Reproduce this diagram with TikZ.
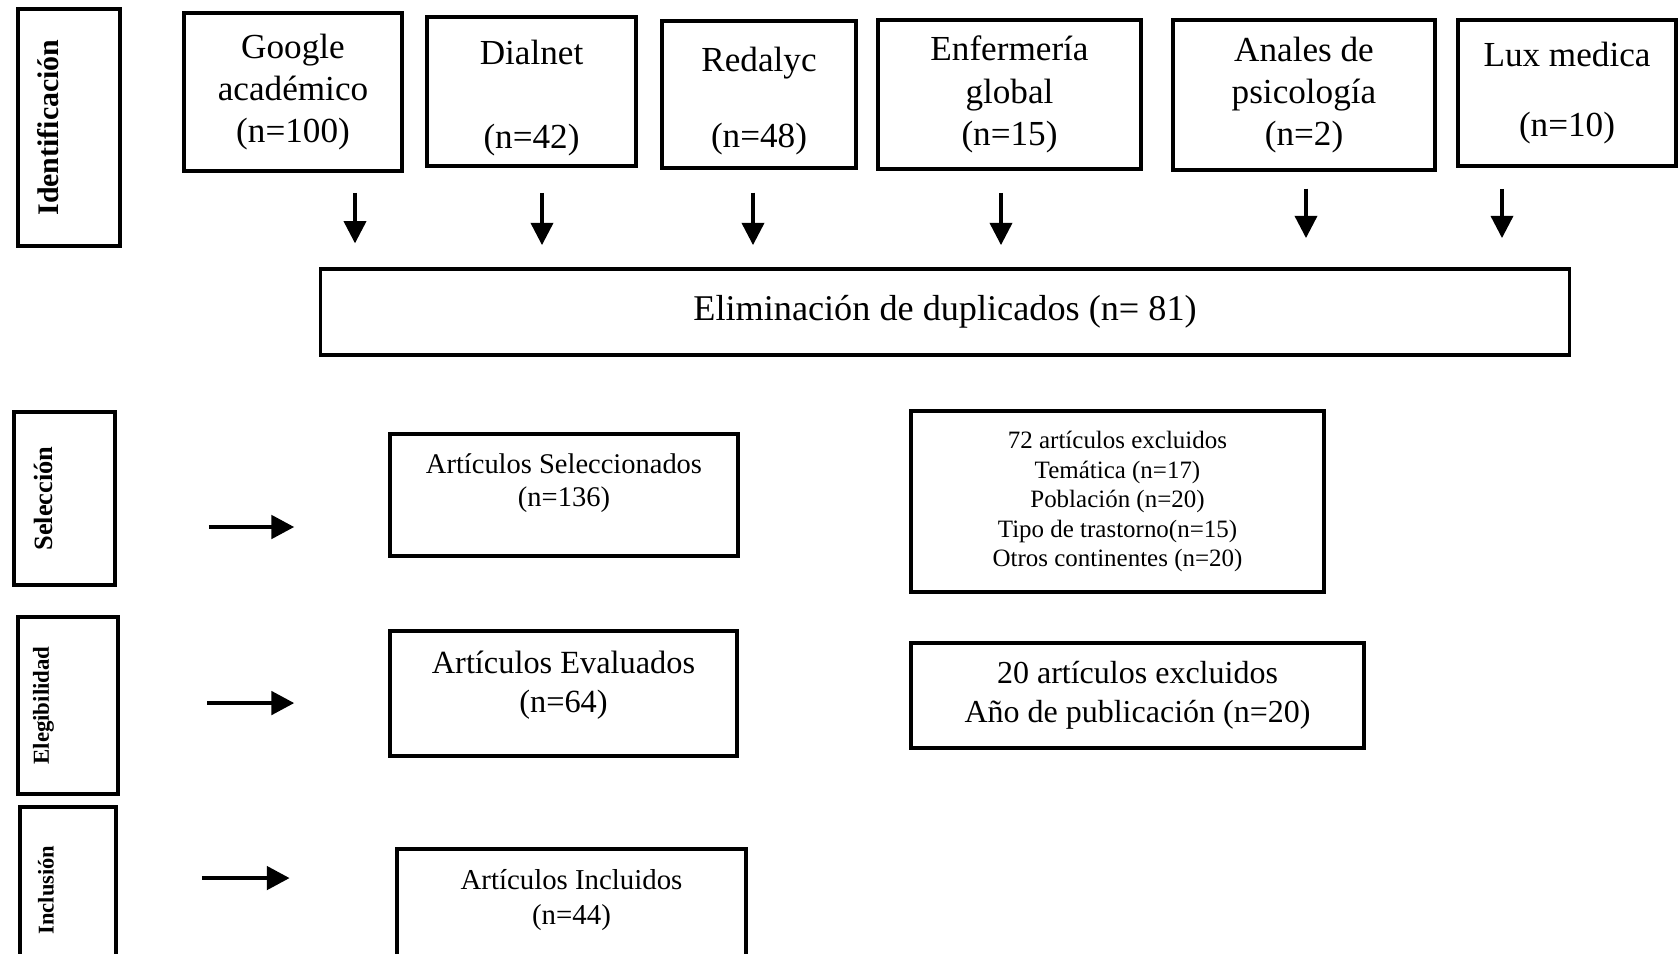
\documentclass[tikz,border=0pt]{standalone}
\usepackage{fontspec}
\setmainfont{Liberation Serif}
\usetikzlibrary{arrows.meta}

\begin{document}
\begin{tikzpicture}[x=0.01cm, y=-0.01cm,
    box/.style={draw, line width=1pt, inner sep=2pt, align=center, font=\fontsize{10}{12}\selectfont},
    fase/.style={draw, line width=1pt, inner sep=0pt, align=center, rotate=90},
    darr/.style={-{Triangle[length=6.3pt, width=6.3pt]}, line width=0.9pt},
    harr/.style={-{Triangle[length=6.5pt, width=6.6pt]}, line width=1.2pt}
]
\useasboundingbox (0,0) rectangle (1678,953);

\node[fase, minimum width=2.37cm, minimum height=1.02cm, font=\bfseries\fontsize{8.5}{10}\selectfont] (ident) at (69,127.5) {Identificación\\[2pt]\mbox{}};
\node[box, minimum width=2.18cm, minimum height=1.58cm] (google) at (293,92) {Google\\académico\\(n=100)};
\node[box, minimum width=2.09cm, minimum height=1.49cm] (dialnet) at (531.5,91.5) {\mbox{}\\[-1.4pt]Dialnet\\[12pt](n=42)};
\node[box, minimum width=1.94cm, minimum height=1.47cm] (redalyc) at (759,94.5) {\mbox{}\\[-1.4pt]Redalyc\\[9.6pt](n=48)};
\node[box, minimum width=2.63cm, minimum height=1.49cm] (enfermeria) at (1009.5,94.5) {Enfermería\\global\\(n=15)};
\node[box, minimum width=2.62cm, minimum height=1.50cm] (anales) at (1304,95) {Anales de\\psicología\\(n=2)};
\node[box, minimum width=2.18cm, minimum height=1.46cm] (lux) at (1567,93) {Lux medica\\[8pt](n=10)};
\node[box, minimum width=12.48cm, minimum height=0.86cm, font=\fontsize{10.3}{12}\selectfont] (elim) at (945,312) {Eliminación de duplicados (n= 81)};

\foreach \src/\ax/\sa/\sb in {google/355/5.7/6.8, dialnet/542/7.1/6.3, redalyc/753/6.5/6.3,
    enfermeria/1001/6.3/6.3, anales/1306/4.8/8.3, lux/1502/6.0/8.3}
  \draw[darr, shorten <=\sa pt, shorten >=\sb pt] (\src.south -| \ax,0) -- (elim.north -| \ax,0);

\node[fase, minimum width=1.73cm, minimum height=1.01cm, font=\bfseries\fontsize{7.5}{9}\selectfont] (selec) at (64.5,498.5) {Selección\\[3.2pt]\mbox{}};
\node[box, minimum width=3.48cm, minimum height=1.22cm, font=\fontsize{8.1}{9.5}\selectfont] (artsel) at (564,495) {Artículos Seleccionados\\(n=136)\\[-1pt]\mbox{}};
\node[box, minimum width=4.13cm, minimum height=1.81cm, font=\fontsize{7.1}{8.4}\selectfont] (excl72) at (1117.5,501.5) {72 artículos excluidos\\Temática (n=17)\\Población (n=20)\\Tipo de trastorno(n=15)\\Otros continentes (n=20)};

\node[fase, minimum width=1.77cm, minimum height=1.00cm, font=\bfseries\fontsize{6.5}{8}\selectfont] (eleg) at (68,705.5) {Elegibilidad\\[7.4pt]\mbox{}};
\node[box, minimum width=3.47cm, minimum height=1.25cm, font=\fontsize{9.2}{11}\selectfont] (arteval) at (563.5,693.5) {Artículos Evaluados\\(n=64)\\[-4.4pt]\mbox{}};
\node[box, minimum width=4.53cm, minimum height=1.05cm, font=\fontsize{9.1}{11}\selectfont] (excl20) at (1137.5,695.5) {20 artículos excluidos\\Año de publicación (n=20)};

\node[fase, minimum width=1.66cm, minimum height=0.96cm, font=\bfseries\fontsize{6.4}{8}\selectfont] (inclu) at (68,890) {Inclusión\\[4.6pt]\mbox{}};
\node[box, minimum width=3.49cm, minimum height=1.22cm, font=\fontsize{8.2}{9.8}\selectfont] (artincl) at (571.5,910) {Artículos Incluidos\\(n=44)\\[-2.3pt]\mbox{}};

% rotated labels: south is their right side
\draw[harr, shorten <=26.2pt, shorten >=26.7pt] ([yshift=-8.1pt]selec.south) -- ([yshift=-8.1pt]selec.south -| artsel.west);
\draw[harr, shorten <=24.8pt, shorten >=26.7pt] ([yshift=0.7pt]eleg.south) -- ([yshift=0.7pt]eleg.south -| arteval.west);
\draw[harr, shorten <=23.9pt, shorten >=30pt] ([yshift=3.4pt]inclu.south) -- ([yshift=3.4pt]inclu.south -| artincl.west);
\end{tikzpicture}
\end{document}
